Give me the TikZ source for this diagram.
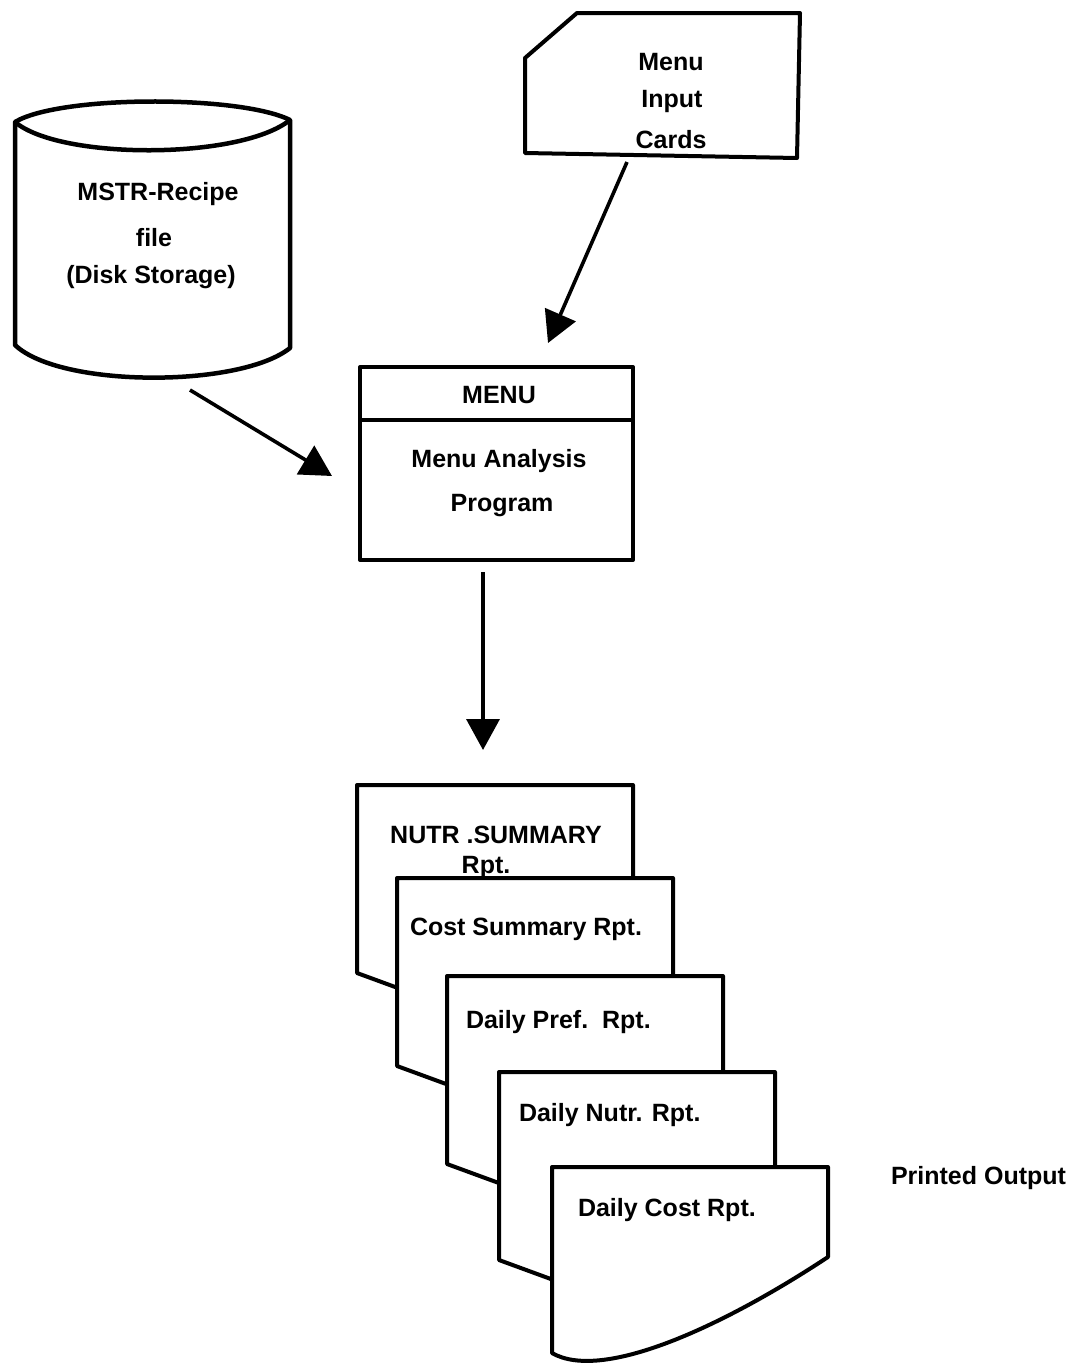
\documentclass[tikz,border=0pt]{standalone}
\usepackage{fontspec}
\setmainfont{Liberation Sans}
\usetikzlibrary{arrows.meta}
\begin{document}
\begin{tikzpicture}[x=1pt,y=-1pt, line width=4pt, line join=round,
  lbl/.style={font=\bfseries\fontsize{25}{30}\selectfont, inner sep=0pt},
  flow/.style={-{Triangle[length=31pt,width=33pt]}, line width=3.6pt},
  pics/docpage/.style={code={
    \draw[fill=white] (0,0) -- (276,0) -- (276,115)
      .. controls (200,190) and (120,214) .. (60,210) -- (0,188) -- cycle;}},
  pics/lastpage/.style={code={
    \draw[fill=white] (0,0) -- (276,0) -- (276,90)
      .. controls (170,160) and (50,215) .. (0,186) -- cycle;}}]
\useasboundingbox (0,0) rectangle (1078,1363);

% Disk storage
\draw[line width=4.5pt] (15,122) .. controls (60,95) and (240,95) .. (290,120)
  -- (290,348) .. controls (240,388) and (60,388) .. (15,345) -- cycle;
\draw[line width=4.5pt] (15,122) .. controls (60,160) and (240,160) .. (290,120);
\node[lbl] (d1) at (158,194) {MSTR-Recipe};
\node[lbl] (d2) at (154,238) {file};
\node[lbl] (d3) at (151,277) {(Disk Storage)};

% Punched card
\draw (525,58) -- (577,13) -- (800,13) -- (797,158) -- (525,153) -- cycle;
\node[lbl] (c1) at (671,62) {Menu};
\node[lbl] (c2) at (672,101) {Input};
\node[lbl] (c3) at (671,140) {Cards};

% Program box
\node[draw, minimum width=273pt, minimum height=193pt, inner sep=0pt] (menu) at (496.5,463.5) {};
\draw (360,420) -- (633,420);
\node[lbl] (m1) at (499,395) {MENU};
\node[lbl] (m2) at (499,461) {Menu Analysis};
\node[lbl] (m3) at (502,506) {Program};

% Connectors
\coordinate (cardout) at (627,162);
\coordinate (menuin1) at (548,343);
\coordinate (diskout) at (190,390);
\coordinate (menuin2) at (332,476);
\coordinate (menuout) at (483,572);
\coordinate (docin) at (483,750);
\draw[flow] (cardout) -- (menuin1);
\draw[flow] (diskout) -- (menuin2);
\draw[flow] (menuout) -- (docin);

% Document stack
\pic at (357,785) {docpage};
\node[lbl] (r1) at (496,835) {NUTR .SUMMARY};
\node[lbl] (r1b) at (486,867) {Rpt.};
\pic at (397,878) {docpage};
\node[lbl, anchor=west] (r2) at (408,929) {Cost Summary Rpt.};
\pic at (447,976) {docpage};
\node[lbl, anchor=west] (r3) at (464,1022) {Daily Pref.\ \ Rpt.};
\pic at (499,1072) {docpage};
\node[lbl, anchor=west] (r4) at (517,1115) {Daily Nutr. Rpt.};
\pic at (552,1167) {lastpage};
\node[lbl, anchor=west] (r5) at (576,1210) {Daily Cost Rpt.};

\node[lbl, anchor=west] (po) at (889,1178) {Printed Output};
\end{tikzpicture}
\end{document}
